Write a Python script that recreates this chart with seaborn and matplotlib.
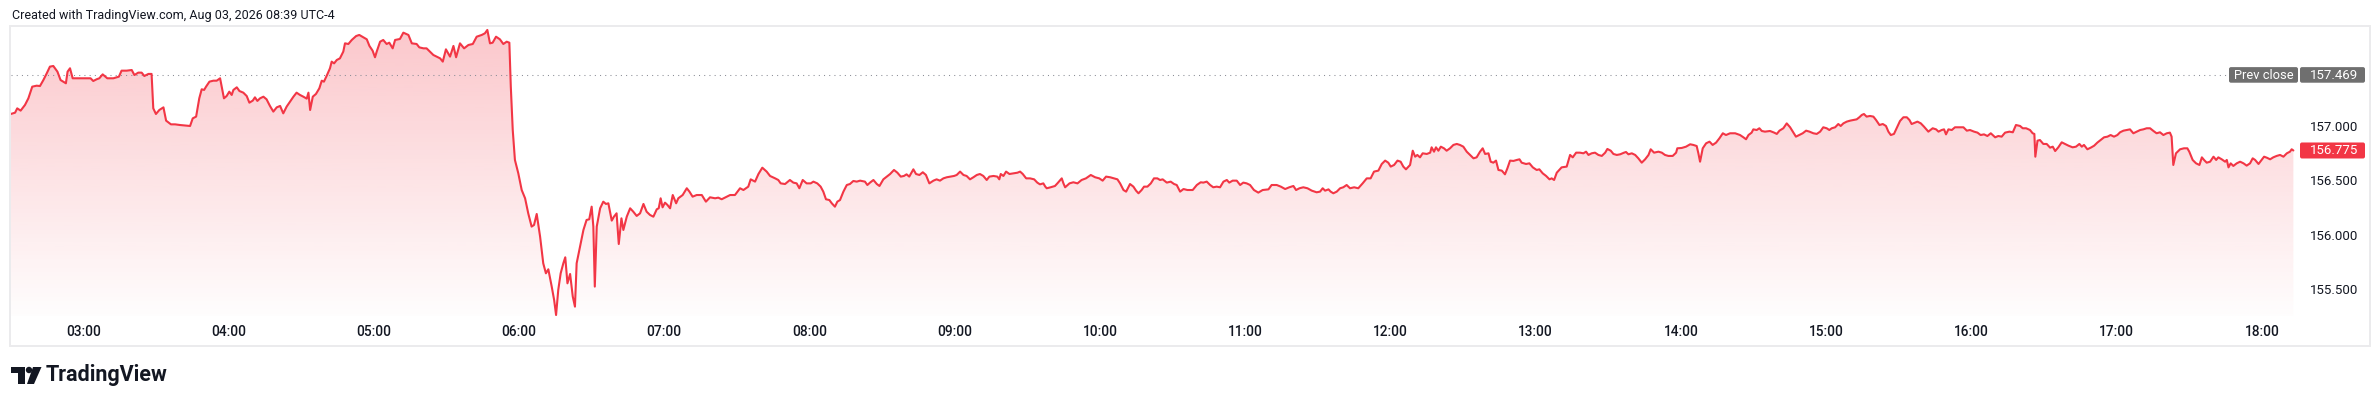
import numpy as np
import pandas as pd
import seaborn as sns
import matplotlib.pyplot as plt
from matplotlib.colors import to_rgb
from matplotlib.patches import Rectangle, FancyBboxPatch, Polygon, Circle

# chart text / ticks
title = "Created with TradingView.com, Aug 03, 2026 08:39 UTC-4"
session_start = "02:30"
session_end = "18:14"
time_labels = ["03:00", "04:00", "05:00", "06:00", "07:00", "08:00", "09:00", "10:00",
               "11:00", "12:00", "13:00", "14:00", "15:00", "16:00", "17:00", "18:00"]
price_ticks = [155.5, 156.0, 156.5, 157.0]
price_range = [155.255, 157.909]
prev_close = 157.469

# minutes after 02:30 and price
minutes = [
    0.0, 1.8, 2.7, 4.1, 5.9, 7.3, 8.9, 10.7, 12.1, 13.5, 14.9, 16.2, 17.6, 19.3, 20.6, 22.8, 23.5, 24.5, 25.6, 27.3,
    31.4, 33.0, 34.1, 35.5, 36.6, 38.0, 39.9, 42.4, 44.7, 45.8, 47.9, 50.0, 51.1, 52.7, 54.1, 55.2, 56.9, 58.2, 58.9, 60.0,
    61.4, 63.1, 64.2, 66.2, 67.9, 69.9, 74.1, 75.2, 76.6, 77.9, 78.9, 79.9, 80.7, 82.1, 83.7, 85.1, 86.5, 88.1, 89.2, 90.3,
    91.3, 92.0, 93.4, 94.5, 96.1, 97.5, 98.6, 100.0, 100.9, 101.9, 103.0, 104.4, 105.7, 107.1, 108.5, 109.9, 111.3, 112.6, 114.0, 115.4,
    116.8, 118.1, 119.5, 120.9, 122.3, 123.0, 123.7, 124.8, 126.1, 127.5, 128.5, 129.4, 130.5, 131.9, 132.6, 133.6, 134.7, 136.0, 137.4, 138.1,
    139.5, 140.9, 142.7, 144.0, 145.7, 147.1, 148.2, 149.5, 150.5, 151.2, 152.6, 153.9, 155.3, 156.4, 157.8, 158.8, 160.8,
    162.2, 164.3, 165.7, 167.7, 168.8, 170.5, 171.8, 173.2, 174.6, 176.0, 177.4, 178.5, 179.8, 181.5, 182.9, 184.0, 185.6, 187.3, 189.1, 190.9,
    192.5, 194.6, 195.9, 196.9, 198.0, 199.1, 200.5, 202.1, 203.5, 204.9, 206.0, 206.6, 207.4, 208.3, 209.7, 211.1, 212.5, 213.8, 215.2, 216.2,
    217.3, 218.7, 220.0, 221.1, 222.1, 223.5, 224.5, 225.3, 226.2, 227.2, 228.3, 229.1, 230.0, 231.1, 232.2, 233.1, 233.8, 235.2, 236.6, 237.9,
    239.0, 240.0, 240.7, 241.3, 242.1, 243.5, 244.8, 245.9, 246.9, 248.3, 249.2, 250.3, 251.2, 252.3, 253.1, 254.5, 255.9, 257.2, 258.6, 260.0,
    261.4, 262.7, 264.1, 265.5, 266.9, 267.7, 268.5, 269.3, 270.3, 271.3, 272.4, 273.5, 274.9, 275.8, 277.6, 279.3, 280.4, 281.7, 283.4, 285.5,
    287.2, 288.9, 291.0, 292.3, 293.7, 295.8, 297.2, 299.2, 301.3, 302.7, 304.7, 305.7, 307.5, 308.9, 310.5, 312.3, 313.7, 315.8, 317.1, 318.1,
    319.9, 321.9,
    323.3, 324.7, 325.8, 327.2, 328.8, 330.5, 331.6, 333.2, 334.6, 335.7, 336.8, 338.2, 339.2, 340.5, 341.5, 342.6, 344.0, 345.4, 346.7, 348.1,
    349.5, 350.9, 352.9, 353.9, 355.0, 356.4, 357.8, 358.9, 360.5, 361.9, 363.3, 364.9, 366.3, 367.7, 369.0, 370.1, 371.2, 372.9, 374.0, 375.4,
    376.8, 378.1, 379.5, 381.2, 382.5, 383.9, 385.3, 386.7, 388.3, 389.7, 390.8, 392.2, 393.6, 394.9, 396.3, 397.7, 399.1, 400.4, 401.8, 403.2,
    404.3, 406.0, 407.6, 408.4, 409.0, 410.1, 411.2, 412.6, 414.2, 415.9, 417.0, 418.1, 419.5, 421.1, 422.8, 424.1, 425.2, 426.6, 427.4, 428.0,
    429.6, 431.4, 432.4, 434.2, 434.9, 435.6, 437.4, 439.0, 440.7, 442.4, 444.2, 446.2, 448.0, 449.7, 451.1, 452.5, 454.2, 455.8, 457.2, 458.3,
    459.7, 460.8, 462.4, 463.8, 464.9, 465.9, 467.2, 468.2, 469.6, 471.0, 472.3, 473.7, 474.8, 475.9, 477.6, 479.2, 480.6, 481.7, 483.1,
    484.5, 486.1, 488.3, 490.0, 491.6, 492.7, 494.1, 495.5, 496.8, 498.2, 499.6, 501.0, 502.4, 503.4, 504.8, 506.5, 507.9, 509.2, 510.6, 512.0,
    513.6, 515.4, 517.2, 519.6, 520.9, 523.0, 524.7, 526.5, 528.2, 529.9, 531.0, 532.4, 534.0, 535.7, 537.5, 539.5, 540.9, 542.0, 543.0, 544.4,
    545.3, 546.4, 547.8, 549.2, 550.5, 551.9, 553.3, 555.0, 556.7, 558.5, 560.2, 561.8, 563.2, 565.0, 566.4, 567.8, 569.1, 570.1, 571.5, 572.9,
    574.2, 575.3, 576.4, 578.1, 579.2, 580.2, 581.1, 582.2, 583.3, 585.0, 586.4, 587.0, 588.0, 588.8, 589.8, 590.8, 592.1, 593.2, 594.6, 596.0,
    597.4, 598.7, 600.1, 601.5, 602.9, 604.3, 605.6, 607.0, 608.1, 609.1, 610.5, 611.4, 612.5, 613.6, 614.6, 616.0, 617.3, 618.3, 619.4, 620.8,
    622.2, 623.3, 624.2, 626.0, 627.4, 628.8, 630.4, 631.5, 632.9, 634.3, 635.7, 636.6, 637.6, 638.7, 640.7, 642.8, 644.2,
    645.3, 646.7, 648.3, 649.7, 650.8, 651.8, 653.1, 654.5, 655.9, 657.3, 658.7, 659.6, 661.0, 662.1, 663.5, 664.9, 666.5, 667.3, 668.3, 669.7,
    671.1, 672.4, 673.8, 675.2, 676.6, 677.5, 678.9, 680.7, 682.1, 683.4, 684.8, 686.6, 688.0, 688.5, 690.3, 692.1, 693.8, 695.1, 696.5, 697.2,
    697.9, 699.0, 700.4, 701.8, 703.1, 704.5, 705.9, 707.3, 708.6, 710.3, 712.4, 714.4, 715.8, 716.9, 717.9, 719.2, 719.9, 721.3, 722.4, 723.4,
    724.7, 726.8, 728.5, 729.6, 730.7, 732.3, 733.7, 735.1, 736.2, 737.5, 738.9, 740.3, 741.7, 743.1, 744.7, 746.1, 747.5, 748.8, 750.2, 751.3,
    752.3, 753.7, 755.0, 756.0, 757.1, 758.5, 759.9, 761.2, 762.6, 763.7, 764.7, 765.6, 766.7, 768.1, 769.5, 770.6, 772.0, 773.4, 774.7, 775.7,
    776.7, 778.0, 779.1, 780.5, 781.9, 783.3, 784.4, 785.3, 786.7, 787.7, 789.1, 790.4, 792.2, 794.0, 795.4, 796.4, 797.7, 798.7, 799.5, 800.5,
    801.9, 803.2, 805.3,
    806.7, 808.1, 809.4, 811.1, 812.5, 813.8, 815.2, 816.6, 818.0, 819.8, 821.1, 822.5, 823.9, 825.7, 827.1, 828.4, 830.1, 831.2, 832.6, 834.2,
    835.3, 836.0, 836.4, 837.3, 838.3, 839.7, 841.1, 842.5, 843.6, 844.6, 845.9, 847.3, 848.7, 850.1, 851.8, 853.2, 854.6, 855.6, 856.5, 857.9,
    859.3, 860.7, 862.0, 863.4, 864.8, 866.2, 867.5, 868.9, 870.3, 871.4, 872.8, 874.2, 875.5, 876.9, 878.3, 879.7, 881.0, 882.4, 883.8, 885.2,
    886.5, 887.9, 889.3, 890.7, 892.0, 892.7, 893.4, 894.5, 896.2, 897.8, 899.2, 900.0, 901.4, 902.8, 904.2, 905.2, 906.1, 907.2, 908.6, 910.0,
    911.1, 912.0, 913.4, 914.8, 915.5, 916.2, 917.1, 918.2, 919.6, 921.0, 922.4, 923.7, 925.1, 926.2, 927.2, 928.6, 929.9, 930.9, 932.0, 933.4,
    934.7, 936.1, 937.5, 938.9, 940.3, 941.6, 942.3, 943.0,
]
prices = [
    157.110, 157.122, 157.162, 157.141, 157.193, 157.254, 157.361, 157.370, 157.367, 157.422, 157.484, 157.545, 157.551, 157.499, 157.422, 157.392, 157.499, 157.530, 157.438, 157.438,
    157.438, 157.438, 157.413, 157.429, 157.438, 157.474, 157.438, 157.438, 157.453, 157.508, 157.508, 157.514, 157.468, 157.490, 157.490, 157.459, 157.478, 157.478, 157.162, 157.110,
    157.147, 157.171, 157.049, 157.015, 157.015, 157.009, 157.000, 157.070, 157.086, 157.254, 157.337, 157.331, 157.361, 157.407, 157.416, 157.416, 157.438, 157.254, 157.275, 157.315,
    157.285, 157.331, 157.355, 157.321, 157.306, 157.275, 157.214, 157.233, 157.263, 157.230, 157.254, 157.269, 157.245, 157.184, 157.132, 157.171, 157.184, 157.116, 157.178, 157.223,
    157.269, 157.306, 157.285, 157.269, 157.251, 157.306, 157.147, 157.269, 157.294, 157.346, 157.416, 157.407, 157.459, 157.530, 157.591, 157.575, 157.606, 157.621, 157.683, 157.759,
    157.753, 157.790, 157.826, 157.836, 157.814, 157.796, 157.735, 157.692, 157.631, 157.683, 157.774, 157.790, 157.753, 157.765, 157.713, 157.790, 157.799,
    157.857, 157.836, 157.759, 157.753, 157.722, 157.713, 157.713, 157.683, 157.652, 157.637, 157.621, 157.591, 157.704, 157.637, 157.735, 157.631, 157.759, 157.713, 157.744, 157.753,
    157.820, 157.836, 157.851, 157.882, 157.759, 157.765, 157.820, 157.796, 157.753, 157.774, 157.765, 157.361, 156.963, 156.688, 156.565, 156.412, 156.336, 156.198, 156.076, 156.091,
    156.192, 155.984, 155.739, 155.647, 155.684, 155.525, 155.402, 155.264, 155.494, 155.647, 155.739, 155.794, 155.555, 155.641, 155.433, 155.341, 155.739, 155.892, 156.045, 156.137,
    156.143, 156.259, 156.076, 155.525, 156.076, 156.244, 156.305, 156.284, 156.290, 156.131, 156.167, 156.198, 155.916, 156.152, 156.045, 156.167, 156.244, 156.213, 156.174, 156.198,
    156.284, 156.213, 156.183, 156.167, 156.235, 156.244, 156.336, 156.253, 156.296, 156.275, 156.244, 156.366, 156.290, 156.336, 156.366, 156.428, 156.397, 156.351, 156.366, 156.366,
    156.305, 156.345, 156.336, 156.342, 156.327, 156.351, 156.366, 156.366, 156.428, 156.412, 156.443, 156.510, 156.489, 156.559, 156.617, 156.581, 156.541, 156.519, 156.504, 156.473,
    156.467, 156.504,
    156.480, 156.473, 156.428, 156.504, 156.473, 156.473, 156.489, 156.473, 156.443, 156.397, 156.327, 156.320, 156.290, 156.259, 156.305, 156.320, 156.397, 156.458, 156.467, 156.495,
    156.489, 156.498, 156.489, 156.458, 156.480, 156.504, 156.467, 156.449, 156.510, 156.535, 156.559, 156.596, 156.571, 156.535, 156.541, 156.556, 156.535, 156.602, 156.559, 156.550,
    156.575, 156.550, 156.473, 156.498, 156.510, 156.498, 156.519, 156.529, 156.535, 156.541, 156.550, 156.581, 156.550, 156.541, 156.510, 156.529, 156.550, 156.559, 156.541, 156.504,
    156.535, 156.541, 156.535, 156.510, 156.559, 156.541, 156.581, 156.559, 156.565, 156.571, 156.581, 156.559, 156.519, 156.519, 156.510, 156.480, 156.464, 156.473, 156.443, 156.428,
    156.437, 156.449, 156.473, 156.519, 156.473, 156.437, 156.473, 156.483, 156.473, 156.504, 156.519, 156.550, 156.529, 156.519, 156.498, 156.535, 156.529, 156.519, 156.510, 156.473,
    156.412, 156.397, 156.467, 156.443, 156.406, 156.382, 156.412, 156.443, 156.443, 156.473, 156.519, 156.519, 156.504, 156.510, 156.480, 156.489, 156.467, 156.458, 156.397,
    156.421, 156.412, 156.412, 156.458, 156.483, 156.480, 156.489, 156.458, 156.437, 156.443, 156.437, 156.489, 156.504, 156.480, 156.498, 156.498, 156.458, 156.480, 156.473, 156.458,
    156.412, 156.388, 156.412, 156.418, 156.458, 156.458, 156.443, 156.421, 156.437, 156.449, 156.412, 156.428, 156.437, 156.428, 156.406, 156.391, 156.397, 156.428, 156.406, 156.418,
    156.397, 156.382, 156.397, 156.428, 156.437, 156.458, 156.428, 156.437, 156.428, 156.473, 156.519, 156.519, 156.581, 156.590, 156.651, 156.682, 156.663, 156.627, 156.642, 156.682,
    156.672, 156.627, 156.602, 156.642, 156.773, 156.718, 156.734, 156.712, 156.749, 156.743, 156.755, 156.804, 156.764, 156.804, 156.773, 156.810, 156.795, 156.773, 156.795, 156.826,
    156.835, 156.826, 156.810, 156.764, 156.734, 156.703, 156.712, 156.764, 156.795, 156.743, 156.749, 156.672, 156.663, 156.682, 156.596, 156.590, 156.556, 156.611, 156.682, 156.679,
    156.688, 156.694, 156.663, 156.651, 156.657, 156.620, 156.596, 156.602, 156.565, 156.541, 156.510, 156.519, 156.504, 156.571, 156.620, 156.627, 156.734,
    156.712, 156.755, 156.755, 156.749, 156.764, 156.734, 156.749, 156.755, 156.734, 156.725, 156.755, 156.789, 156.773, 156.743, 156.734, 156.740, 156.755, 156.761, 156.740, 156.749,
    156.734, 156.703, 156.663, 156.694, 156.734, 156.786, 156.755, 156.764, 156.755, 156.734, 156.725, 156.725, 156.755, 156.795, 156.798, 156.810, 156.832, 156.826, 156.816, 156.749,
    156.672, 156.795, 156.841, 156.856, 156.826, 156.847, 156.887, 156.933, 156.917, 156.933, 156.933, 156.917, 156.896, 156.878, 156.917, 156.939, 156.969, 156.963, 156.979, 156.954,
    156.948, 156.954, 156.939, 156.927, 156.957, 156.979, 157.024, 156.988, 156.948, 156.902, 156.917, 156.933, 156.957, 156.948, 156.933, 156.927, 156.948, 156.988, 156.979, 156.963,
    156.979, 156.988, 157.018, 157.000, 157.024, 157.040, 157.049, 157.055, 157.061, 157.080, 157.101, 157.110, 157.086, 157.092, 157.086, 157.055, 157.009, 157.018, 157.000, 156.948,
    156.917, 156.927, 156.979, 157.046, 157.080, 157.080, 157.055, 157.018, 157.031, 157.040, 157.024, 156.994, 156.948, 156.979, 156.969, 156.948, 156.963, 156.969, 156.923, 156.969,
    156.963, 156.988, 156.988,
    156.988, 156.957, 156.963, 156.948, 156.939, 156.917, 156.923, 156.908, 156.933, 156.896, 156.908, 156.902, 156.939, 156.948, 156.942, 157.009, 157.000, 156.979, 156.979, 156.963,
    156.933, 156.927, 156.718, 156.865, 156.871, 156.835, 156.835, 156.801, 156.810, 156.770, 156.804, 156.850, 156.835, 156.819, 156.804, 156.810, 156.835, 156.810, 156.826, 156.786,
    156.801, 156.819, 156.847, 156.871, 156.896, 156.902, 156.917, 156.902, 156.917, 156.942, 156.957, 156.963, 156.969, 156.933, 156.948, 156.963, 156.969, 156.979, 156.979, 156.954,
    156.933, 156.942, 156.917, 156.933, 156.939, 156.902, 156.642, 156.749, 156.786, 156.795, 156.795, 156.764, 156.688, 156.657, 156.642, 156.712, 156.688, 156.663, 156.672, 156.718,
    156.688, 156.712, 156.694, 156.672, 156.688, 156.620, 156.657, 156.633, 156.657, 156.672, 156.657, 156.636, 156.657, 156.703, 156.688, 156.651, 156.688, 156.718, 156.709, 156.694,
    156.712, 156.725, 156.734, 156.718, 156.749, 156.764, 156.786, 156.775,
]

RED = "#f23645"
TEXT = "#131722"


def to_min(s):
    h, m = map(int, s.split(":"))
    return h * 60 + m


sns.set_theme(style="white")
plt.rcParams["font.family"] = ["Roboto", "DejaVu Sans"]

W, H = 2380, 407
fig = plt.figure(figsize=(W / 100, H / 100), dpi=100)
fig.patch.set_facecolor("white")

# price pane (pixel box of the reference)
L, R, T, B = 10.7, 2297, 27, 316
ax = fig.add_axes([L / W, 1 - B / H, (R - L) / W, (B - T) / H])

df = pd.DataFrame({"minute": minutes, "price": prices})
x_end = to_min(session_end) - to_min(session_start) + 0.5

sns.lineplot(data=df, x="minute", y="price", ax=ax, color=RED, linewidth=1.5,
             estimator=None, sort=False, zorder=4)

# gradient area under the line
poly = ax.fill_between(df["minute"], df["price"], price_range[0], facecolor="none", edgecolor="none")
grad = np.zeros((256, 1, 4))
grad[:, 0, :3] = to_rgb(RED)
grad[:, 0, 3] = np.linspace(0.01, 0.28, 256)
im = ax.imshow(grad, extent=[0, x_end, price_range[0], price_range[1]], aspect="auto",
               origin="lower", zorder=2, interpolation="bilinear")
im.set_clip_path(poly.get_paths()[0], transform=ax.transData)

ax.axhline(prev_close, color="#8a8d96", lw=0.75, linestyle=(0, (1, 4)), zorder=3)

ax.set_xlim(0, x_end)
ax.set_ylim(*price_range)

ax.set_xticks([to_min(t) - to_min(session_start) for t in time_labels])
ax.set_xticklabels(time_labels)
ax.tick_params(axis="x", length=0, pad=6.5, labelsize=9.8, labelcolor=TEXT)
for lab in ax.get_xticklabels():
    lab.set_fontweight("medium")

ax.yaxis.tick_right()
ax.set_yticks(price_ticks)
ax.set_yticklabels([f"{v:.3f}" for v in price_ticks])
ax.tick_params(axis="y", length=0, pad=44, labelsize=9.5, labelcolor=TEXT)
for lab in ax.get_yticklabels():
    lab.set_horizontalalignment("right")

ax.set_xlabel("")
ax.set_ylabel("")
for s in ax.spines.values():
    s.set_visible(False)

# overlay in pixel units for frame, labels and logo
ov = fig.add_axes([0, 0, 1, 1], zorder=5)
ov.set_xlim(0, W)
ov.set_ylim(H, 0)
ov.axis("off")

ov.add_patch(Rectangle((10, 26), 2360, 320, fill=False, edgecolor="#ebebed", lw=1.4))


def ypix(v):
    return H - ax.transData.transform((0, v))[1]


yp = ypix(prev_close)
ov.add_patch(FancyBboxPatch((2229, yp - 7.8), 69, 15.6, boxstyle="round,pad=0,rounding_size=2",
                            fc="#6f6f6f", ec="none"))
ov.add_patch(FancyBboxPatch((2300, yp - 7.8), 65, 15.6, boxstyle="round,pad=0,rounding_size=2",
                            fc="#6f6f6f", ec="none"))
ov.text(2263.5, yp + 0.5, "Prev close", color="white", ha="center", va="center", fontsize=9.3)
ov.text(2358, yp + 0.5, f"{prev_close:.3f}", color="white", ha="right", va="center", fontsize=9.5)

yl = ypix(prices[-1])
ov.add_patch(FancyBboxPatch((2300, yl - 8), 65, 16, boxstyle="round,pad=0,rounding_size=2",
                            fc=RED, ec="none"))
ov.text(2358, yl + 0.5, f"{prices[-1]:.3f}", color="white", ha="right", va="center", fontsize=9.5)

ov.text(12, 15, title, color=TEXT, ha="left", va="center", fontsize=9)

# TradingView mark + wordmark
ov.add_patch(Polygon([(11, 367), (25, 367), (25, 384), (18, 384), (18, 373), (11, 373)],
                     closed=True, fc=TEXT, ec="none"))
ov.add_patch(Circle((29, 370), 3.2, fc=TEXT, ec="none"))
ov.add_patch(Polygon([(33, 367), (41.5, 367), (34, 384), (27, 384)], closed=True, fc=TEXT, ec="none"))
ov.text(46, 375.5, "TradingView", color=TEXT, ha="left", va="center", fontsize=15.5, fontweight="bold")

fig.savefig("out.png", dpi=100)
